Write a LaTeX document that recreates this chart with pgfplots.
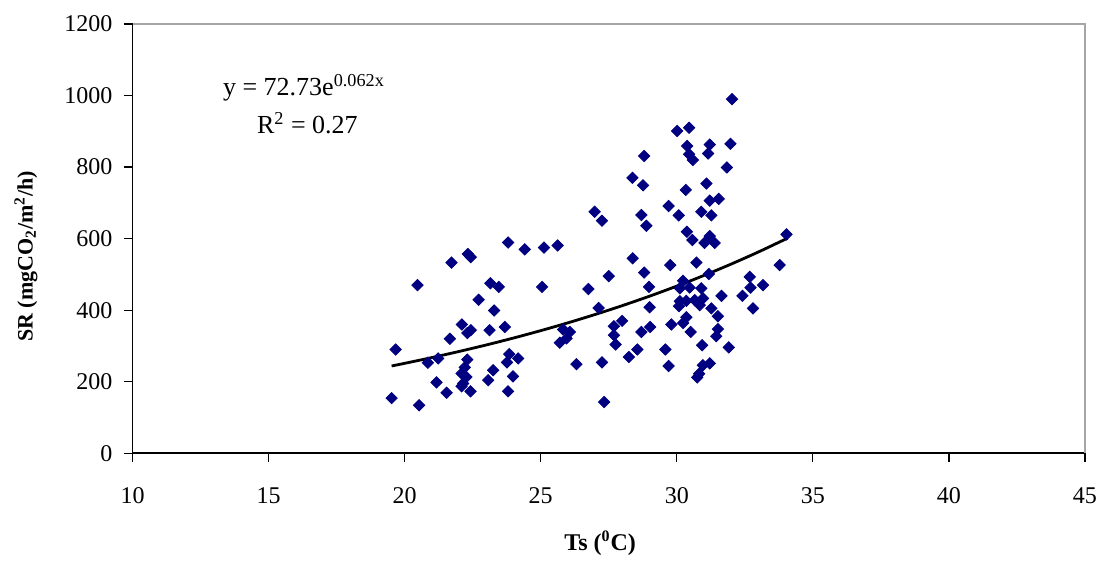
\documentclass[border=0pt]{standalone}
\usepackage{fontspec}
\setmainfont{Liberation Serif}
\usepackage{pgfplots}
\pgfplotsset{compat=1.18}
\usepackage{pgfplotstable}
\definecolor{navy}{RGB}{0,0,128}
\pgfplotstableread{
x y
19.52 154
19.67 290
20.47 470
20.53 134
20.85 253
21.23 265
21.17 198
21.54 169
21.66 320
21.72 533
22.10 360
22.30 336
22.43 344
22.32 557
22.43 548
22.30 262
22.21 240
22.09 223
22.27 213
22.15 195
22.09 187
22.42 173
22.72 429
23.12 344
23.15 475
23.46 465
23.29 399
23.25 232
23.07 204
23.68 353
23.80 589
24.41 570
25.12 575
25.62 581
25.05 465
23.84 277
24.17 265
23.76 254
23.98 215
23.80 173
25.82 346
26.07 339
25.95 321
25.70 309
26.31 249
26.75 459
27.13 406
27.50 495
27.25 254
27.33 143
26.98 675
27.25 650
27.99 370
27.69 355
27.69 330
27.75 304
28.24 269
28.55 290
28.70 339
28.38 545
28.80 505
28.98 465
29.00 408
28.37 770
28.76 749
28.80 831
28.70 666
28.88 636
29.02 353
29.58 290
29.70 244
29.76 526
29.80 360
30.08 411
30.11 425
30.35 426
30.66 428
30.96 433
30.84 414
30.11 461
30.23 482
30.47 463
30.90 461
30.72 533
31.18 501
30.35 380
30.23 364
30.51 339
30.93 302
31.27 405
31.51 383
31.51 347
31.45 327
31.91 296
31.21 251
30.96 246
30.82 222
30.75 212
31.64 440
30.37 619
30.57 596
31.21 607
31.02 588
31.39 588
32.41 440
32.68 493
32.71 463
32.80 405
33.17 470
33.78 526
34.03 612
32.03 990
30.01 901
30.45 910
30.38 859
31.21 863
31.97 865
30.45 836
30.59 820
31.15 838
31.84 799
30.33 736
31.09 754
31.21 706
31.54 711
29.70 691
30.07 665
30.90 675
31.27 665
}\sr
\pgfplotstableread{
x y
19.52 243.9
20 251.3
21 267.4
22 284.5
23 302.7
24 322.1
25 342.7
26 364.6
27 387.9
28 412.7
29 439.1
30 467.2
31 497.1
32 528.9
33 562.7
34 598.7
34.03 599.8
}\trend
\begin{document}
\begin{tikzpicture}
\begin{axis}[
  scale only axis, width=476pt, height=214.5pt,
  xmin=10, xmax=45, ymin=0, ymax=1200,
  xtick={10,15,...,45}, ytick={0,200,...,1200},
  axis x line=bottom, axis y line=left,
  x axis line style={-, line width=1.1pt},
  y axis line style={-, line width=0.8pt},
  tick style={black, line width=0.6pt}, tick align=outside, major tick length=4.5pt,
  /pgf/number format/assume math mode=true,
  /pgf/number format/1000 sep={},
  tick label style={font=\fontsize{12}{14}\selectfont},
  xticklabel style={yshift=-9pt},
  yticklabel style={xshift=-2pt},
  xlabel={\textbf{Ts (\textsuperscript{0}C)}},
  ylabel={\textbf{SR (mgCO\textsubscript{2}/m\textsuperscript{2}/h)}},
  every axis x label/.style={at={(axis description cs:0.491,-0.21)}, anchor=center, font=\fontsize{12}{14}\selectfont},
  every axis y label/.style={at={(axis description cs:-0.1119,0.459)}, rotate=90, anchor=center, font=\fontsize{11}{13}\selectfont},
  clip=false,
]
\draw[gray!70, line width=0.6pt] (rel axis cs:0,1) -- (rel axis cs:1,1) -- (rel axis cs:1,0);
\addplot[only marks, mark=square*, mark size=2pt, color=navy, mark options={rotate=45, fill=navy, draw=navy}] table[x=x,y=y] {\sr};
\addplot[black, line width=1.4pt, no marks, smooth] table[x=x,y=y] {\trend};
\node[anchor=base west, font=\fontsize{13}{15}\selectfont, inner sep=0pt] at (axis cs:13.31,1001) {y = 72.73e\textsuperscript{0.062x}};
\node[anchor=base west, font=\fontsize{13}{15}\selectfont, inner sep=0pt] at (axis cs:14.56,895) {R\textsuperscript{2} = 0.27};
\coordinate (sw) at (rel axis cs:0,0);
\coordinate (ne) at (rel axis cs:1,1);
\end{axis}
\pgfresetboundingbox
\path ([xshift=-66.25pt,yshift=-57.5pt]sw) rectangle ([xshift=6pt,yshift=12pt]ne);
\end{tikzpicture}
\end{document}
